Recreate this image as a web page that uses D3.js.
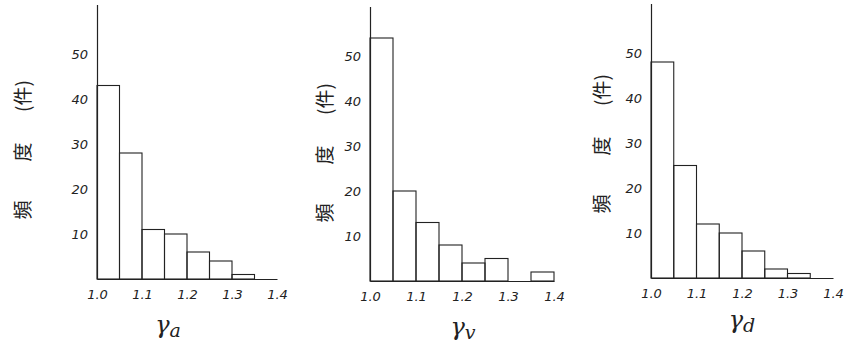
<!DOCTYPE html>
<html>
<head>
<meta charset="utf-8">
<script src="https://cdn.jsdelivr.net/npm/d3@7/dist/d3.min.js"></script>
<style>
  body { margin: 0; background: #fff; }
  svg { display: block; }
  .tick text { font-family: "DejaVu Sans", sans-serif; font-style: italic; font-size: 13px; fill: #222; }
</style>
</head>
<body>
<div id="chart"></div>
<script>
// bin starts (width 0.05) and frequency counts
const binStarts = [1.00, 1.05, 1.10, 1.15, 1.20, 1.25, 1.30, 1.35];
const binWidth = 0.05;
const countsA = [43, 28, 11, 10, 6, 4, 1, 0];
const countsV = [54, 20, 13, 8, 4, 5, 0, 2];
const countsD = [48, 25, 12, 10, 6, 2, 1, 0];
const xTicks = [1.0, 1.1, 1.2, 1.3, 1.4];
const yTicks = [10, 20, 30, 40, 50];
const yLabelParts = ['頻', '度', '(件)'];
const subs = ['a', 'v', 'd'];

const width = 856;
const height = 351;

const svg = d3.select('#chart')
  .append('svg')
  .attr('width', width)
  .attr('height', height);

// panel placement
const panels = [
  { counts: countsA, x0: 97, x1: 277, base: 279, ylab: [21, 152], title: [168, 333] },
  { counts: countsV, x0: 370, x1: 554, base: 281, ylab: [323, 155], title: [463, 335] },
  { counts: countsD, x0: 651, x1: 833, base: 278, ylab: [600, 146], title: [742, 328] },
];
const partOffsets = [-58, 0, 56];

panels.forEach((p, i) => {
  const g = svg.append('g');

  const x = d3.scaleLinear().domain([1.0, 1.4]).range([p.x0, p.x1]);
  const y = d3.scaleLinear().domain([0, 61]).range([p.base, p.base - 61 * 4.5]);

  // bars
  g.selectAll('rect')
    .data(binStarts.map((b, j) => ({ b, v: p.counts[j] })).filter((d) => d.v > 0))
    .enter()
    .append('rect')
    .attr('x', (d) => x(d.b))
    .attr('y', (d) => y(d.v))
    .attr('width', (d) => x(d.b + binWidth) - x(d.b))
    .attr('height', (d) => y(0) - y(d.v))
    .attr('fill', 'none')
    .attr('stroke', '#222')
    .attr('stroke-width', 1.1);

  // x axis (baseline, no tick marks)
  const xAxis = g.append('g')
    .attr('transform', `translate(0,${p.base})`)
    .call(d3.axisBottom(x).tickValues(xTicks).tickSize(0).tickPadding(11).tickFormat(d3.format('.1f')));
  xAxis.select('.domain').attr('stroke', '#222');

  // y axis
  const yAxis = g.append('g')
    .attr('transform', `translate(${p.x0},0)`)
    .call(d3.axisLeft(y).tickValues(yTicks).tickSize(0).tickPadding(9));
  yAxis.select('.domain').attr('stroke', '#222').attr('stroke-width', 1.2);

  // y label, spread out along the axis
  const lab = g.append('g')
    .attr('transform', `translate(${p.ylab[0]},${p.ylab[1]}) rotate(-90)`);
  lab.selectAll('text')
    .data(yLabelParts)
    .enter()
    .append('text')
    .attr('x', (d, j) => partOffsets[j])
    .attr('text-anchor', 'middle')
    .attr('dominant-baseline', 'central')
    .style('font-family', '"Noto Sans CJK JP", sans-serif')
    .style('font-size', '19px')
    .style('fill', '#222')
    .text((d) => d);

  // x title
  const t = g.append('text')
    .attr('x', p.title[0])
    .attr('y', p.title[1])
    .attr('text-anchor', 'middle')
    .style('font-family', '"DejaVu Serif", serif')
    .style('font-style', 'italic')
    .style('font-size', '24px')
    .style('fill', '#222');
  t.append('tspan').text('γ');
  t.append('tspan').attr('dy', 4).style('font-size', '19px').text(subs[i]);
});
</script>
</body>
</html>
